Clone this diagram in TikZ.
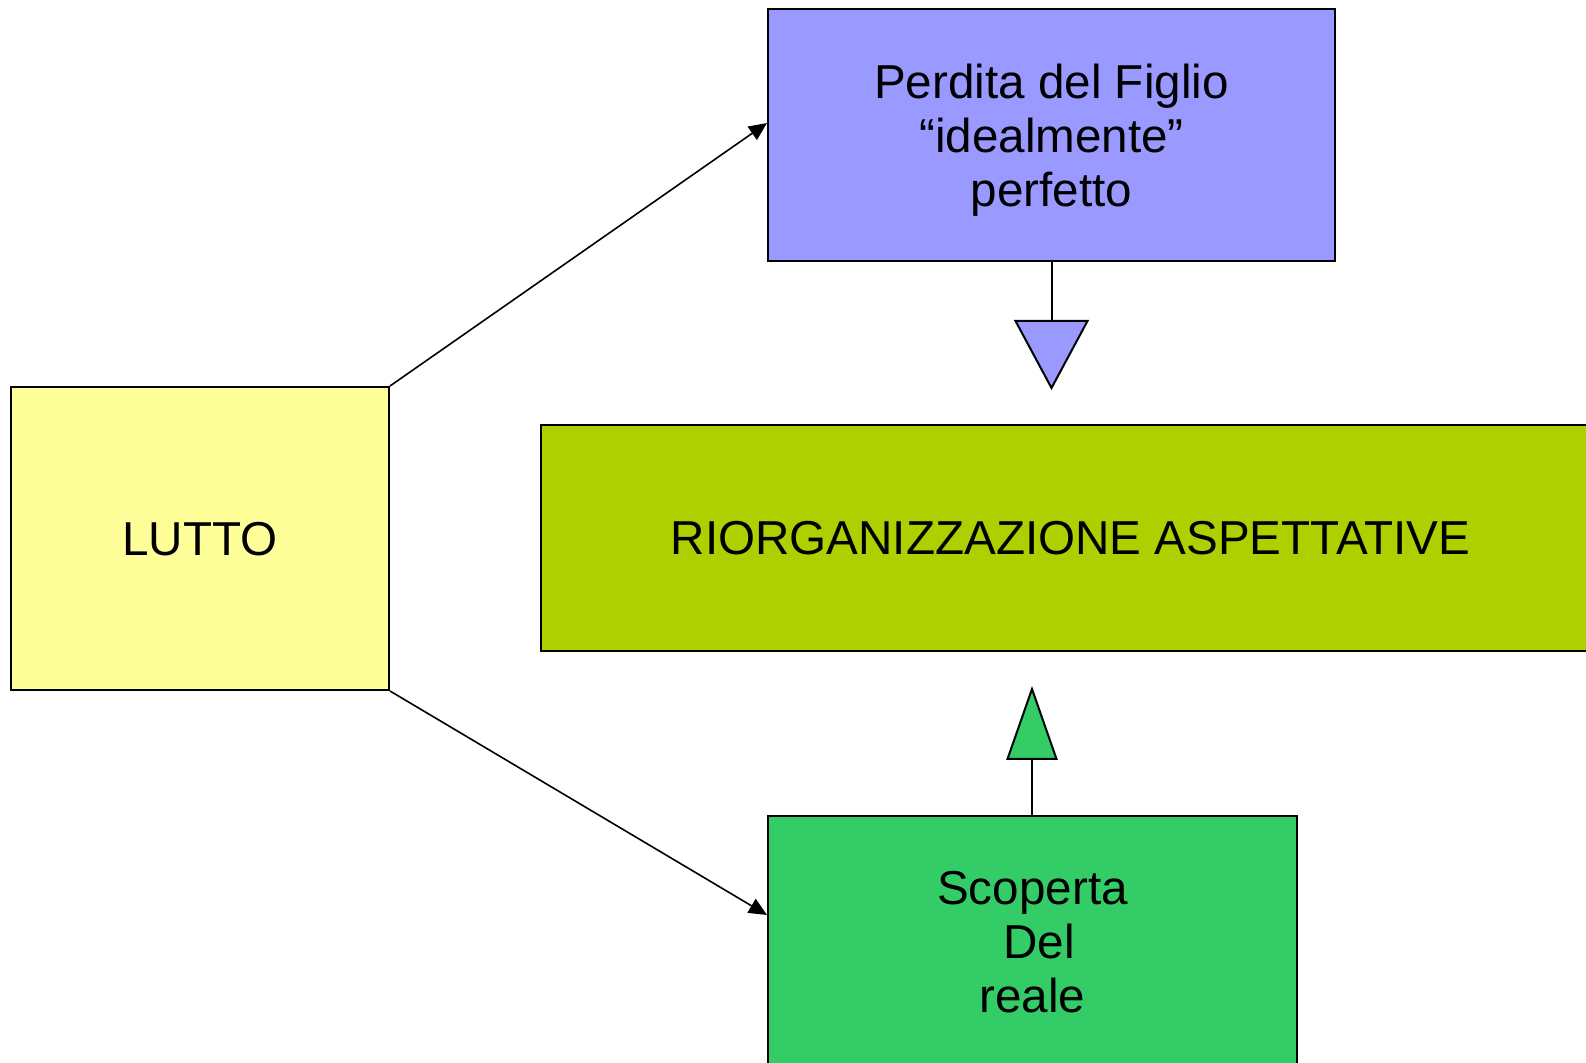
\documentclass[tikz,border=0pt]{standalone}
\usepackage{fontspec}
\setmainfont{Liberation Sans}
\usepackage{tikz}
\usetikzlibrary{arrows,arrows.meta,positioning}
\definecolor{lilla}{HTML}{9999FF}
\definecolor{giallo}{HTML}{FFFF99}
\definecolor{oliva}{HTML}{AFD000}
\definecolor{verde}{HTML}{33CC66}
\tikzstyle{box} = [draw=black, line width=1pt, align=center, inner sep=0pt, text depth=0pt, font=\fontsize{23.8}{27}\selectfont]
\tikzstyle{arrow} = [line width=0.8pt,->,>={Triangle[length=9pt,width=8pt]}]

\begin{document}
\begin{tikzpicture}[x=0.5pt,y=-0.5pt]
        \useasboundingbox (0,0) rectangle (1586,1063);
        \clip (0,0) rectangle (1586,1063);
        % boxes
        \node[box, fill=giallo, minimum width=189pt, minimum height=151.5pt] (lutto) at (200,538.5) {LUTTO};
        \node[box, fill=lilla, minimum width=283.5pt, minimum height=126pt] (perdita) at (1051.5,135) {Perdita del Figlio\\``idealmente''\\perfetto};
        \node[box, fill=oliva, minimum width=529.5pt, minimum height=113pt] (riorg) at (1070.5,538) {RIORGANIZZAZIONE ASPETTATIVE};
        \node[box, fill=verde, minimum width=264.5pt, minimum height=126pt] (scoperta) at (1032.5,942) {Scoperta\\\mbox{ }Del\\reale};
        % arrows from LUTTO
        \draw[arrow] (lutto.north east) -- ([yshift=6pt]perdita.west);
        \draw[arrow] (lutto.south east) -- ([yshift=13.5pt]scoperta.west);
        % block arrows
        \draw[line width=1pt] (perdita.south) -- ++(0,-29.5pt) coordinate (giu);
        \draw[line width=1pt, fill=lilla, line join=miter] ([xshift=-18pt]giu) -- ([xshift=18pt]giu) -- ([yshift=-33.5pt]giu) -- cycle;
        \draw[line width=1pt] ([xshift=-0.25pt]scoperta.north) -- ++(0,28pt) coordinate (su);
        \draw[line width=1pt, fill=verde, line join=miter] ([xshift=-12.25pt]su) -- ([xshift=12.25pt]su) -- ([yshift=35pt]su) -- cycle;
    \end{tikzpicture}
\end{document}
